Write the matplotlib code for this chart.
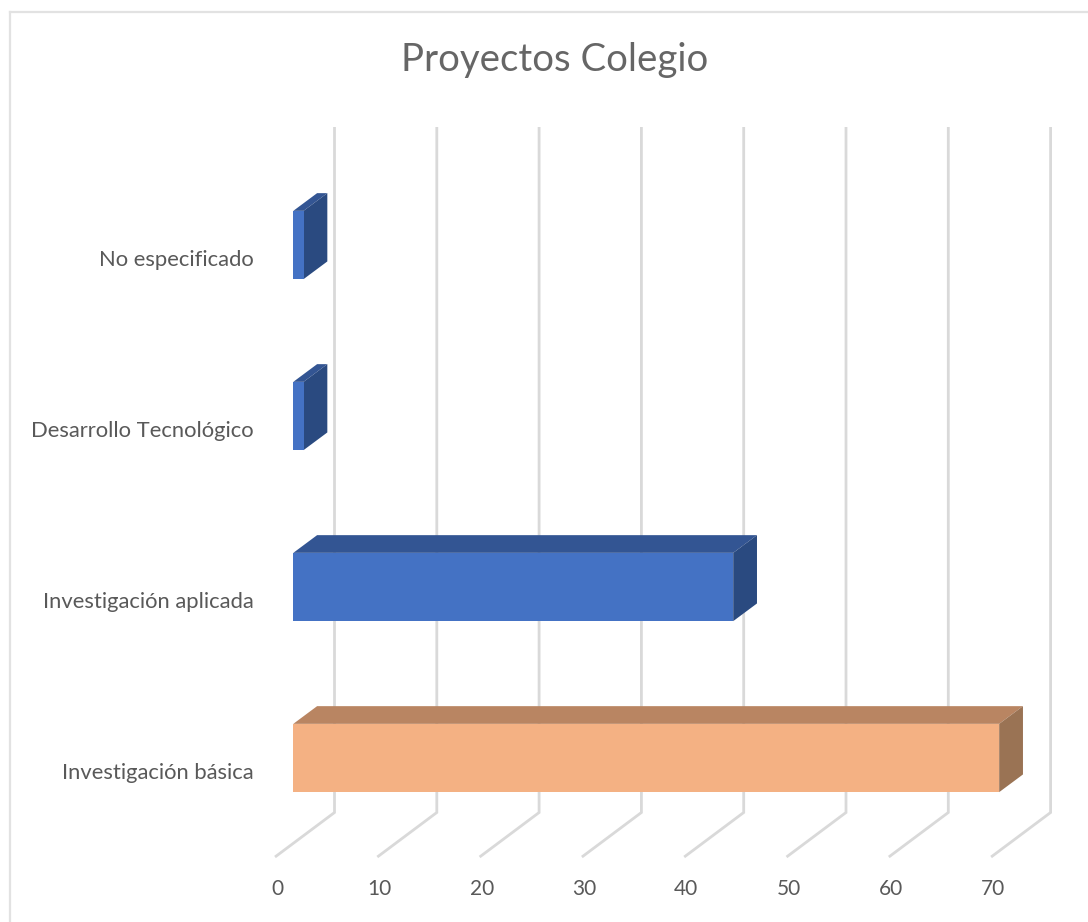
import matplotlib
matplotlib.use('Agg')
import matplotlib.pyplot as plt
from matplotlib.lines import Line2D
from matplotlib.patches import Polygon

plt.rcParams['font.family'] = ['Lato', 'DejaVu Sans']

title = 'Proyectos Colegio'
categorias = ['Investigación básica', 'Investigación aplicada', 'Desarrollo Tecnológico', 'No especificado']
valores = [69, 43, 1, 1]
ticks = [0, 10, 20, 30, 40, 50, 60, 70]

W, H = 1088, 922
# escala en pixeles: valor 0 en x=293.3, categoria 0 en y=758
px_val = 10.23
px_cat = 171.0
x0, y0 = 293.3, 758.0

# profundidad falsa 3d, en unidades de datos
dx = 23.8 / px_val
dy = 17.7 / px_cat
alto = 68.3 / px_cat

azul = ('#4472C4', '#335593', '#2A4A80')
naranja = ('#F4B183', '#B98562', '#9A7354')
colores = [naranja, azul, azul, azul]
gris = '#D9D9D9'
texto = '#595959'

fig = plt.figure(figsize=(W / 100, H / 100), dpi=100)
ax = fig.add_axes([0, 0, 1, 1])
ax.set_xlim(-x0 / px_val, (W - x0) / px_val)
ax.set_ylim((y0 - H) / px_cat, y0 / px_cat)
ax.axis('off')

# borde del grafico, solo arriba e izquierda
fig.add_artist(Line2D([9.5 / W, 9.5 / W], [0, 1 - 12 / H], color='#E2E2E2', lw=1.6))
fig.add_artist(Line2D([9.5 / W, 1], [1 - 12 / H, 1 - 12 / H], color='#E2E2E2', lw=1.6))

# rejilla: linea de suelo y vertical de fondo
suelo_f = (y0 - 857) / px_cat
suelo_b = (y0 - 812.5) / px_cat
techo = (y0 - 127) / px_cat
off_f = (275 - x0) / px_val
off_b = (334.5 - x0) / px_val
for t in ticks:
    ax.plot([t + off_f, t + off_b, t + off_b], [suelo_f, suelo_b, techo],
            color=gris, lw=2.0, solid_joinstyle='miter', solid_capstyle='butt', zorder=1)
    ax.text(t + off_f + 0.2, (y0 - 889) / px_cat, str(t), color=texto, fontsize=15,
            ha='center', va='center')

# barras: frente, tapa y lado
for c, (cat, v, col) in enumerate(zip(categorias, valores, colores)):
    y1, y2 = c - alto / 2, c + alto / 2
    ax.add_patch(Polygon([(0, y2), (v, y2), (v + dx, y2 + dy), (dx, y2 + dy)], fc=col[1], ec='none', zorder=2))
    ax.add_patch(Polygon([(v, y1), (v + dx, y1 + dy), (v + dx, y2 + dy), (v, y2)], fc=col[2], ec='none', zorder=2))
    ax.add_patch(Polygon([(0, y1), (v, y1), (v, y2), (0, y2)], fc=col[0], ec='none', zorder=3))
    ax.text((254 - x0) / px_val, c - 21 / px_cat, cat, color=texto, fontsize=15.8, ha='right', va='baseline')

ax.text((555 - x0) / px_val, (y0 - 60) / px_cat, title, color='#666666', fontsize=27.6,
        fontweight='normal', ha='center', va='center')

fig.savefig('out.png', dpi=100)
